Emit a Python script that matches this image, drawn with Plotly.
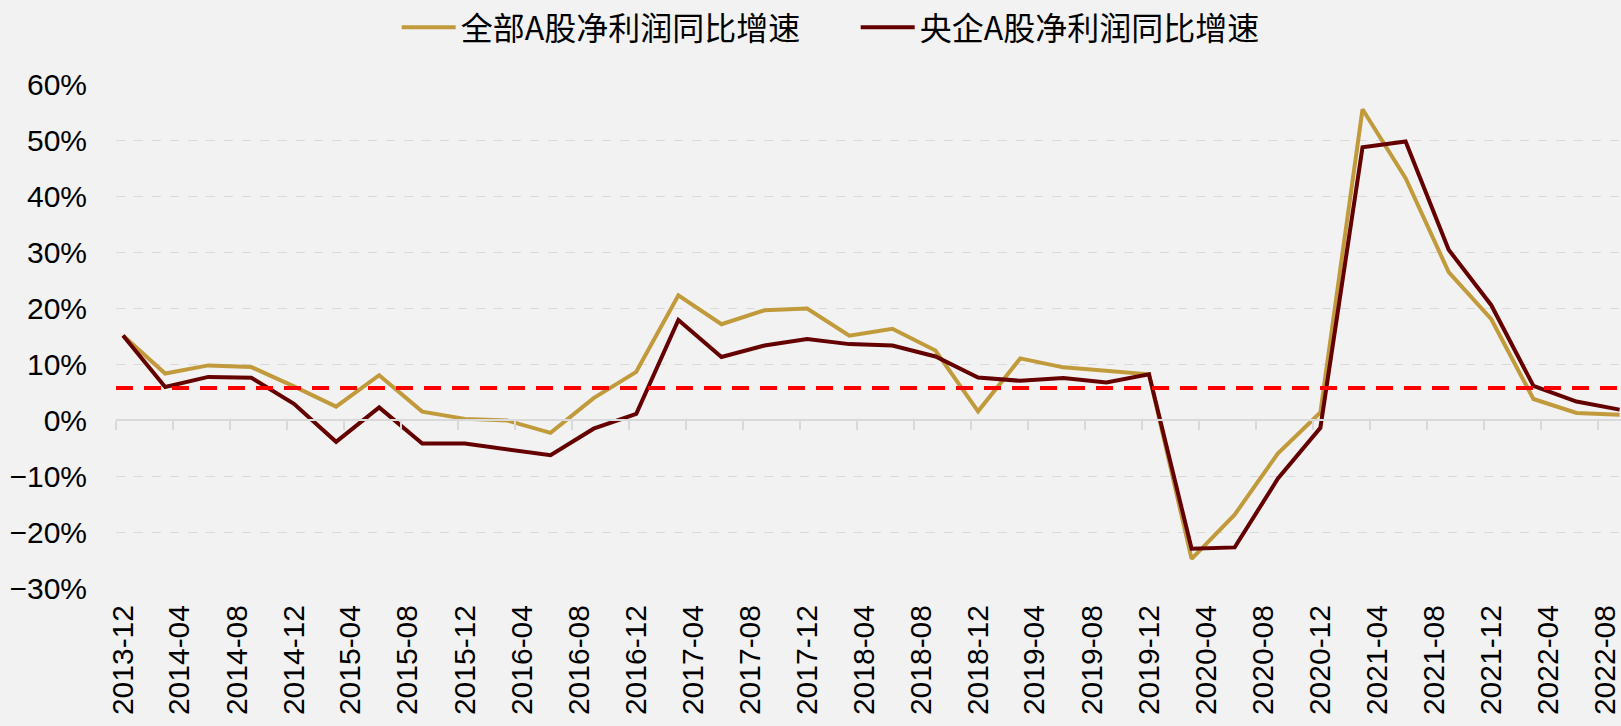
import plotly.graph_objects as go

# ---- data ----
dates = ["2013-12", "2014-03", "2014-06", "2014-09", "2014-12", "2015-03", "2015-06", "2015-09",
         "2015-12", "2016-03", "2016-06", "2016-09", "2016-12", "2017-03", "2017-06", "2017-09",
         "2017-12", "2018-03", "2018-06", "2018-09", "2018-12", "2019-03", "2019-06", "2019-09",
         "2019-12", "2020-03", "2020-06", "2020-09", "2020-12", "2021-03", "2021-06", "2021-09",
         "2021-12", "2022-03", "2022-06", "2022-09"]
all_a = [15.1, 8.3, 9.75, 9.45, 6.0, 2.4, 8.0, 1.5, 0.2, -0.1, -2.3, 3.9,
         8.6, 22.25, 17.1, 19.6, 19.9, 15.05, 16.3, 12.4, 1.55, 11.0, 9.4, 8.8,
         8.15, -24.8, -16.9, -6.0, 1.35, 55.5, 43.2, 26.4, 18.0, 3.75, 1.25, 0.95]
soe_a = [15.1, 5.9, 7.7, 7.55, 2.9, -3.9, 2.25, -4.2, -4.2, -5.2, -6.3, -1.55,
         1.1, 17.85, 11.25, 13.3, 14.45, 13.55, 13.3, 11.35, 7.6, 7.0, 7.5, 6.7,
         8.15, -23.0, -22.75, -10.5, -1.4, 48.7, 49.75, 30.4, 20.5, 6.1, 3.3, 1.85]
ref_level = 5.7
names = ["全部A股净利润同比增速", "央企A股净利润同比增速"]
colors = ["#C09A3B", "#640000"]

x_mid = [d + "-16" for d in dates]

fig = go.Figure()
for vals, nm, col in [(all_a, names[0], colors[0]), (soe_a, names[1], colors[1])]:
    fig.add_trace(go.Scatter(x=x_mid, y=[v / 100 for v in vals], name=nm, mode="lines",
                             line=dict(color=col, width=4), hoverinfo="x+y"))
# helper trace so the tick-mark axis (x2) is rendered
fig.add_trace(go.Scatter(x=x_mid, y=[ref_level / 100] * len(x_mid), xaxis="x2", mode="lines",
                         line=dict(width=0, color="rgba(0,0,0,0)"), showlegend=False, hoverinfo="skip"))

fig.add_shape(type="line", xref="paper", x0=0, x1=1, yref="y", y0=ref_level / 100, y1=ref_level / 100,
              line=dict(color="#FF0000", width=4, dash="17px,11px"), layer="above")

xr = ["2013-12-01", "2022-09-19"]
fig.update_layout(
    width=1621, height=726,
    margin=dict(l=116, r=0, t=84, b=138),
    paper_bgcolor="#F2F2F2", plot_bgcolor="#F2F2F2",
    font=dict(family="Liberation Sans, Arial, sans-serif", color="#000000"),
    showlegend=True,
    legend=dict(orientation="h", x=0.1865, xanchor="left", y=1.112, yanchor="middle",
                font=dict(family="Noto Sans CJK SC", size=32, color="#000000"),
                bgcolor="rgba(0,0,0,0)", entrywidth=390, entrywidthmode="pixels",
                itemwidth=54, tracegroupgap=0),
    xaxis=dict(type="date", range=xr, tick0="2013-12-16", dtick="M4", tickformat="%Y-%m",
               tickangle=-90, tickfont=dict(size=30, family="Liberation Sans, Arial"),
               showgrid=False, zeroline=False, showline=False, ticks="outside", ticklen=4,
               tickcolor="rgba(0,0,0,0)"),
    xaxis2=dict(type="date", range=xr, overlaying="x", anchor="free", position=1 / 3,
                tick0="2013-12-01", dtick="M4", showticklabels=False, ticks="outside",
                ticklen=9, tickwidth=2, tickcolor="#D9D9D9", showline=True, linecolor="#D9D9D9",
                linewidth=2, showgrid=False, zeroline=False, side="bottom"),
    yaxis=dict(range=[-0.30, 0.60], dtick=0.1, tickformat=".0%",
               tickfont=dict(size=30, family="Liberation Sans, Arial"),
               showgrid=True, gridcolor="#D9D9D9", gridwidth=1, griddash="dash",
               zeroline=False, showline=False, ticks="outside", ticklen=22,
               tickcolor="rgba(0,0,0,0)"),
)

fig.write_html("out.html", config={"displayModeBar": False},
               post_script="document.body.style.margin='0px';document.body.style.overflow='hidden';")
